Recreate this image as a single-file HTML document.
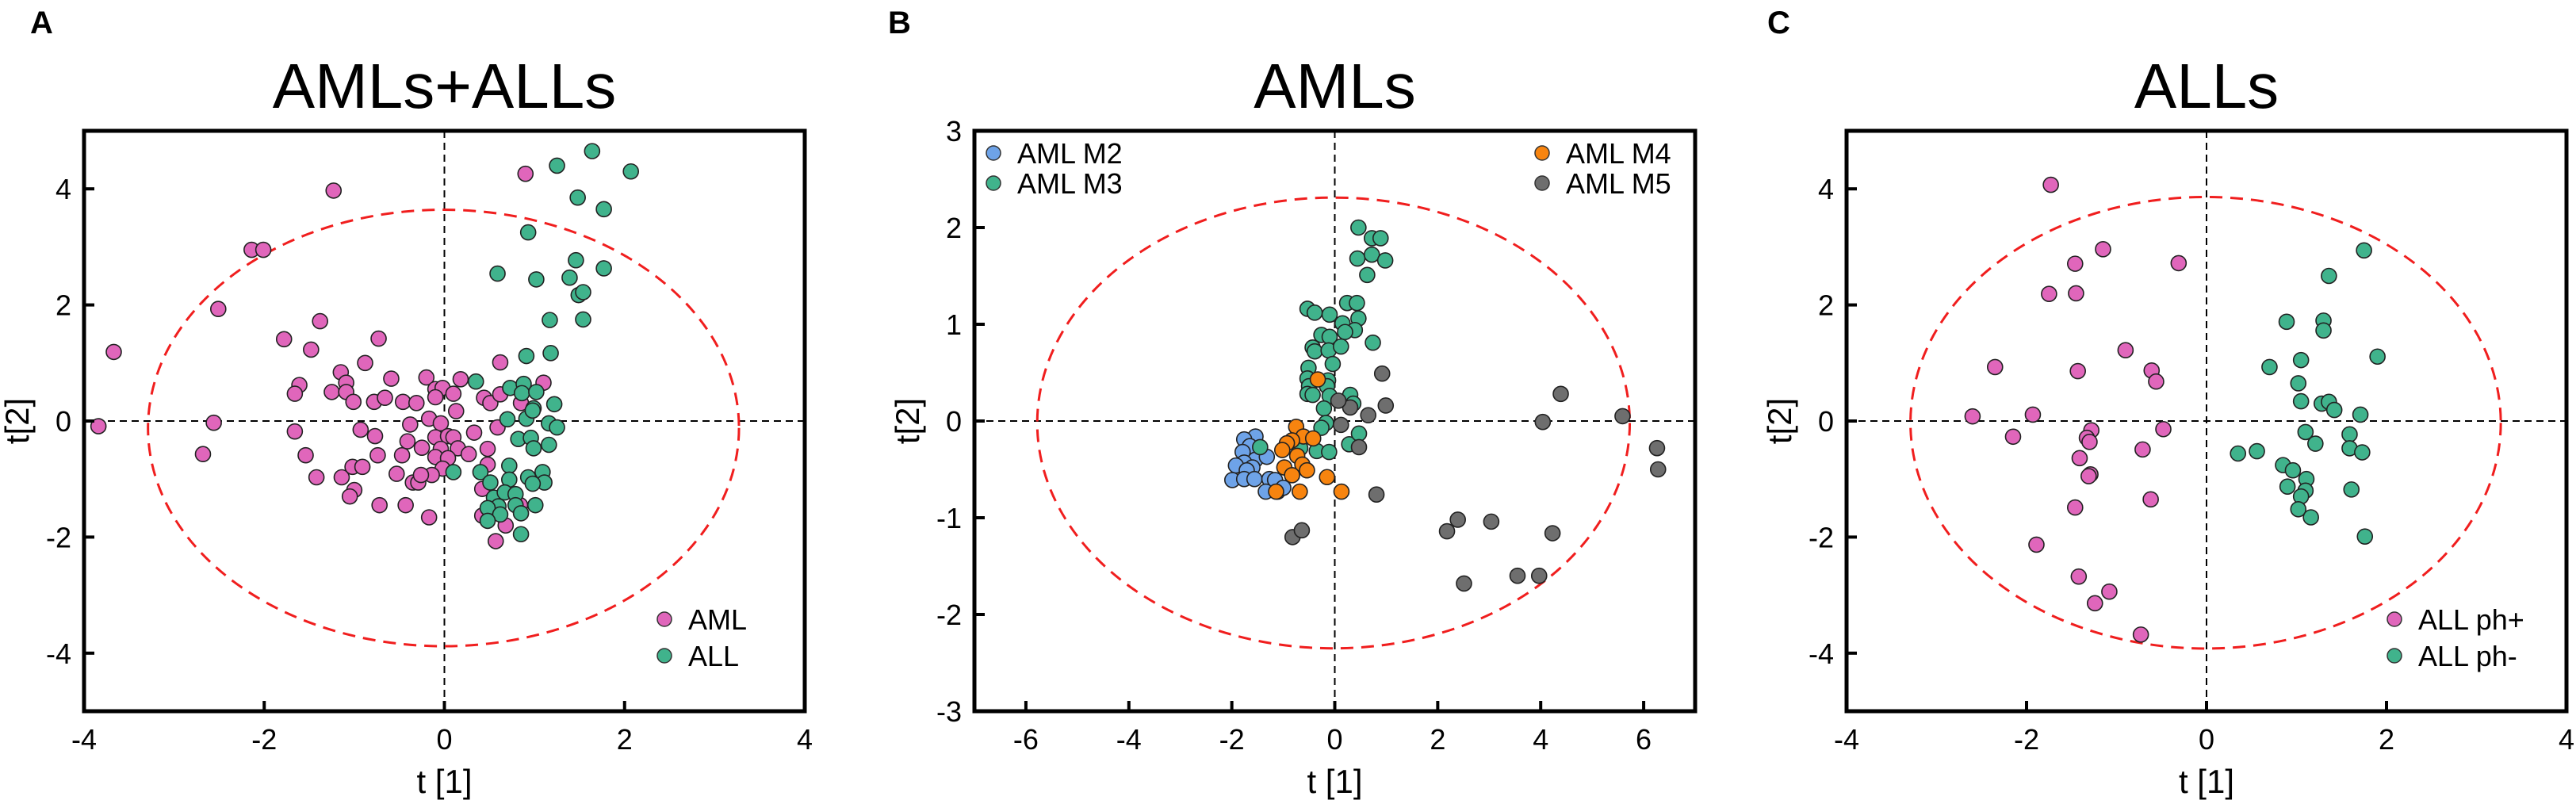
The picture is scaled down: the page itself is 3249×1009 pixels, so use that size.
<!DOCTYPE html>
<html><head><meta charset="utf-8"><style>
html,body{margin:0;padding:0;background:#fff;}
svg{display:block;font-family:"Liberation Sans",Arial,sans-serif;}
</style></head><body>
<svg id="fig" width="3249" height="1009" viewBox="0 0 3249 1009" xmlns="http://www.w3.org/2000/svg"></svg>
<script>
// ---- data ----
const aAMLx=[0.90,-1.23,-2.14,-2.01,-2.51,-3.67,-3.84,-2.56,-2.68,-1.38,-1.78,-1.48,-0.73,-0.88,0.62,-1.15,-1.61,-1.66,-1.25,-1.09,-1.09,-1.01,-0.59,-0.78,-0.66,-0.46,-0.31,-0.20,-0.10,-0.02,-0.10,0.10,0.18,0.13,0.44,0.51,0.62,1.10,-1.66,-0.93,-0.77,-1.54,-0.74,-1.42,-1.14,-1.02,-0.91,-1.00,-1.05,-0.72,-0.43,-0.53,-0.47,-0.38,-0.41,-0.25,-0.35,-0.29,-0.17,-0.17,-0.04,-0.10,0.04,-0.04,0.10,0.15,-0.10,0.04,-0.02,-0.14,-0.26,0.27,0.33,0.48,0.48,0.59,0.42,0.42,0.57,0.68,0.84,0.85];
const aAMLy=[4.26,3.97,2.95,2.95,1.93,1.19,-0.09,-0.03,-0.57,1.72,1.41,1.23,1.42,1.00,1.01,0.84,0.62,0.47,0.50,0.66,0.50,0.33,0.73,0.33,0.40,0.33,0.31,0.75,0.55,0.57,0.41,0.47,0.72,0.17,0.40,0.31,0.46,0.66,-0.18,-0.15,-0.26,-0.59,-0.59,-0.97,-0.97,-0.79,-0.79,-1.19,-1.30,-1.45,-1.45,-0.91,-0.59,-0.06,-0.35,-0.46,-1.06,-1.06,-1.66,0.04,-0.04,-0.28,-0.26,-0.48,-0.28,-0.47,-0.62,-0.64,-0.82,-0.93,-0.93,-0.57,-0.20,-0.48,-0.75,-0.11,-1.17,-1.63,-2.07,-1.80,-1.45,0.31];
const aALLx=[1.64,1.25,2.07,1.48,1.77,0.93,1.46,0.59,1.77,1.02,1.39,1.49,1.54,1.17,1.54,0.91,1.18,0.35,0.73,0.88,0.86,1.02,0.99,1.22,0.70,0.91,0.98,1.16,1.25,0.82,0.96,1.16,0.99,0.10,0.40,0.72,0.51,0.93,1.09,1.11,0.98,0.72,0.55,0.67,0.79,0.60,0.48,0.79,1.01,0.85,0.62,0.48,0.85];
const aALLy=[4.65,4.40,4.30,3.85,3.65,3.25,2.77,2.54,2.63,2.44,2.47,2.17,2.22,1.74,1.75,1.12,1.17,0.68,0.57,0.64,0.48,0.50,0.22,0.29,0.03,0.04,0.18,-0.04,-0.11,-0.31,-0.29,-0.41,-0.47,-0.88,-0.88,-0.77,-1.06,-0.97,-0.88,-1.06,-1.08,-1.01,-1.32,-1.23,-1.26,-1.47,-1.50,-1.45,-1.45,-1.59,-1.61,-1.72,-1.95];
const bM2x=[-1.54,-1.76,-1.65,-1.79,-1.54,-1.76,-1.60,-1.92,-1.71,-1.99,-1.76,-1.56,-1.32,-1.27,-1.16,-1.34,-1.11,-1.00];
const bM2y=[-0.16,-0.19,-0.26,-0.32,-0.40,-0.43,-0.48,-0.46,-0.51,-0.61,-0.60,-0.60,-0.37,-0.60,-0.61,-0.73,-0.73,-0.69];
const bM3x=[0.46,0.72,0.89,0.44,0.72,0.98,0.63,-0.53,-0.39,-0.10,0.24,0.43,0.15,0.46,0.39,0.20,0.74,-0.26,-0.10,-0.43,-0.39,-0.12,0.12,-0.04,-0.51,-0.53,-0.50,-0.13,-0.15,-0.53,-0.43,-0.10,0.30,0.36,-0.21,-0.17,-0.26,-0.35,-0.11,0.28,0.47,-1.45,-0.67];
const bM3y=[2.00,1.89,1.89,1.68,1.72,1.66,1.51,1.16,1.12,1.10,1.22,1.22,1.01,1.06,0.94,0.92,0.81,0.89,0.87,0.76,0.72,0.73,0.77,0.59,0.55,0.44,0.36,0.42,0.36,0.28,0.27,0.26,0.27,0.18,0.13,-0.02,-0.07,-0.31,-0.32,-0.24,-0.13,-0.27,-0.28];
const bM4x=[-0.33,-0.75,-0.61,-0.83,-0.93,-0.42,-1.02,-0.73,-0.98,-0.63,-0.54,-0.83,-0.15,-1.14,-0.68,0.13];
const bM4y=[0.43,-0.06,-0.16,-0.20,-0.23,-0.18,-0.30,-0.36,-0.48,-0.45,-0.51,-0.56,-0.58,-0.73,-0.73,-0.73];
const bM5x=[0.92,0.99,0.30,0.65,0.07,0.12,0.47,0.81,-0.82,-0.64,2.18,2.39,3.04,2.51,3.55,3.97,4.23,4.04,4.39,5.59,6.26,6.28];
const bM5y=[0.49,0.16,0.14,0.06,0.21,-0.04,-0.27,-0.76,-1.20,-1.13,-1.14,-1.02,-1.04,-1.68,-1.60,-1.60,-1.16,-0.01,0.28,0.05,-0.28,-0.50];
const cPPx=[-1.73,-1.15,-0.31,-1.46,-1.75,-1.45,-0.90,-2.35,-1.43,-0.61,-0.56,-2.60,-1.93,-2.15,-1.28,-1.33,-1.30,-0.48,-0.71,-1.41,-1.29,-1.31,-0.62,-1.46,-1.89,-1.42,-1.08,-1.24,-0.73];
const cPPy=[4.07,2.96,2.72,2.71,2.19,2.20,1.22,0.93,0.86,0.87,0.68,0.08,0.11,-0.27,-0.16,-0.29,-0.36,-0.14,-0.49,-0.64,-0.92,-0.95,-1.35,-1.49,-2.13,-2.68,-2.94,-3.14,-3.68];
const cPMx=[1.75,1.36,0.89,1.30,1.30,1.90,0.70,1.05,1.02,1.05,1.28,1.36,1.42,1.71,1.10,1.21,1.59,1.59,1.73,0.35,0.56,0.85,0.96,1.11,0.90,1.10,1.05,1.02,1.16,1.61,1.76];
const cPMy=[2.94,2.50,1.71,1.73,1.56,1.11,0.93,1.05,0.65,0.34,0.30,0.33,0.19,0.11,-0.19,-0.39,-0.23,-0.47,-0.54,-0.56,-0.52,-0.76,-0.85,-1.00,-1.13,-1.20,-1.30,-1.52,-1.66,-1.18,-1.99];
const xTicksA=[-4,-2,0,2,4], yTicksA=[-4,-2,0,2,4];
const xTicksB=[-6,-4,-2,0,2,4,6], yTicksB=[-3,-2,-1,0,1,2,3];

const NS='http://www.w3.org/2000/svg';
const svg=document.getElementById('fig');
function mk(tag,attrs,parent,text){const e=document.createElementNS(NS,tag);for(const k in attrs)e.setAttribute(k,attrs[k]);if(text!==undefined)e.textContent=text;(parent||svg).appendChild(e);return e;}

function panel(o){
  const g=mk('g',{},svg);
  
  
  const sx=v=>o.L+(v-o.xmin)/(o.xmax-o.xmin)*(o.R-o.L);
  const sy=v=>o.B-(v-o.ymin)/(o.ymax-o.ymin)*(o.B-o.T);
  const lt=mk('text',{x:o.letterX,y:42,'font-size':40,'font-weight':'bold'},g,o.letter);
  
  
  const tt=mk('text',{x:(o.L+o.R)/2,y:136,'font-size':80,'text-anchor':'middle'},g,o.title);
  
  
  const vl=mk('line',{x1:sx(0),x2:sx(0),y1:o.T,y2:o.B,stroke:'#000','stroke-width':2,'stroke-dasharray':'9,6'},g);
  
  
  const hl=mk('line',{x1:o.L,x2:o.R,y1:sy(0),y2:sy(0),stroke:'#000','stroke-width':2,'stroke-dasharray':'9,6'},g);
  
  
  const e=o.ell;
  const el=mk('ellipse',{cx:sx((e[0]+e[1])/2),cy:sy((e[2]+e[3])/2),rx:Math.abs(sx(e[1])-sx(e[0]))/2,ry:Math.abs(sy(e[3])-sy(e[2]))/2,fill:'none',stroke:'#f01e1e','stroke-width':3,'stroke-dasharray':'16,10'},g);
  
  
  o.series.forEach(s=>{
    const sg=mk('g',{},g);
    
    
    s.x.forEach((xv,i)=>{
      const c=mk('circle',{cx:sx(xv),cy:sy(s.y[i]),r:9.5,fill:s.color,stroke:'#222','stroke-width':1.6},sg);
      
      
    });
  });
  const fr=mk('rect',{x:o.L,y:o.T,width:o.R-o.L,height:o.B-o.T,fill:'none',stroke:'#000','stroke-width':5},g);
  
  
  o.xt.forEach(t=>{
    const x=sx(t);
    const tk=mk('line',{x1:x,x2:x,y1:o.B,y2:o.B-13,stroke:'#000','stroke-width':4},g);
    
    
    const lb=mk('text',{x:x,y:o.B+48,'font-size':36,'text-anchor':'middle'},g,t);
    
    
  });
  o.yt.forEach(t=>{
    const y=sy(t);
    const tk=mk('line',{x1:o.L,x2:o.L+13,y1:y,y2:y,stroke:'#000','stroke-width':4},g);
    
    
    const lb=mk('text',{x:o.L-16,y:y+13,'font-size':36,'text-anchor':'end'},g,t);
    
    
  });
  const xa=mk('text',{x:(o.L+o.R)/2,y:1000,'font-size':42,'text-anchor':'middle'},g,'t [1]');
  
  
  const ya=mk('text',{x:o.L-70,y:(o.T+o.B)/2,'font-size':42,'text-anchor':'middle',transform:'rotate(-90 '+(o.L-70)+' '+((o.T+o.B)/2)+')'},g,'t[2]');
  
  
  o.legend.forEach(l=>{
    const lg=mk('g',{},g);
    
    
    mk('circle',{cx:l[0],cy:l[1],r:9,fill:l[3],stroke:'#333','stroke-width':1.5},lg);
    mk('text',{x:l[0]+30,y:l[1]+13,'font-size':36},lg,l[2]);
  });
}
const pink='#e066bb',green='#40b38c',blue='#6ea3e8',orange='#f7840f',gray='#6e6e6e';
panel({id:'a',letter:'A',letterX:38,title:'AMLs+ALLs',L:106,R:1015,T:165,B:897,xmin:-4,xmax:4,ymin:-5,ymax:5,xt:xTicksA,yt:yTicksA,
  ell:[-3.29,3.27,-3.88,3.64],
  series:[{name:'AML',x:aAMLx,y:aAMLy,color:pink},{name:'ALL',x:aALLx,y:aALLy,color:green}],
  legend:[[838,781,'AML',pink],[838,827,'ALL',green]]});
panel({id:'b',letter:'B',letterX:1120,title:'AMLs',L:1229,R:2138,T:165,B:897,xmin:-7,xmax:7,ymin:-3,ymax:3,xt:xTicksB,yt:yTicksB,
  ell:[-5.78,5.73,-2.35,2.31],
  series:[{name:'AML M2',x:bM2x,y:bM2y,color:blue},{name:'AML M3',x:bM3x,y:bM3y,color:green},{name:'AML M4',x:bM4x,y:bM4y,color:orange},{name:'AML M5',x:bM5x,y:bM5y,color:gray}],
  legend:[[1253,193,'AML M2',blue],[1253,231,'AML M3',green],[1945,193,'AML M4',orange],[1945,231,'AML M5',gray]]});
panel({id:'c',letter:'C',letterX:2229,title:'ALLs',L:2329,R:3237,T:165,B:897,xmin:-4,xmax:4,ymin:-5,ymax:5,xt:xTicksA,yt:yTicksA,
  ell:[-3.29,3.27,-3.92,3.86],
  series:[{name:'ALL ph+',x:cPPx,y:cPPy,color:pink},{name:'ALL ph-',x:cPMx,y:cPMy,color:green}],
  legend:[[3020,781,'ALL ph+',pink],[3020,827,'ALL ph-',green]]});
</script>
</body></html>
